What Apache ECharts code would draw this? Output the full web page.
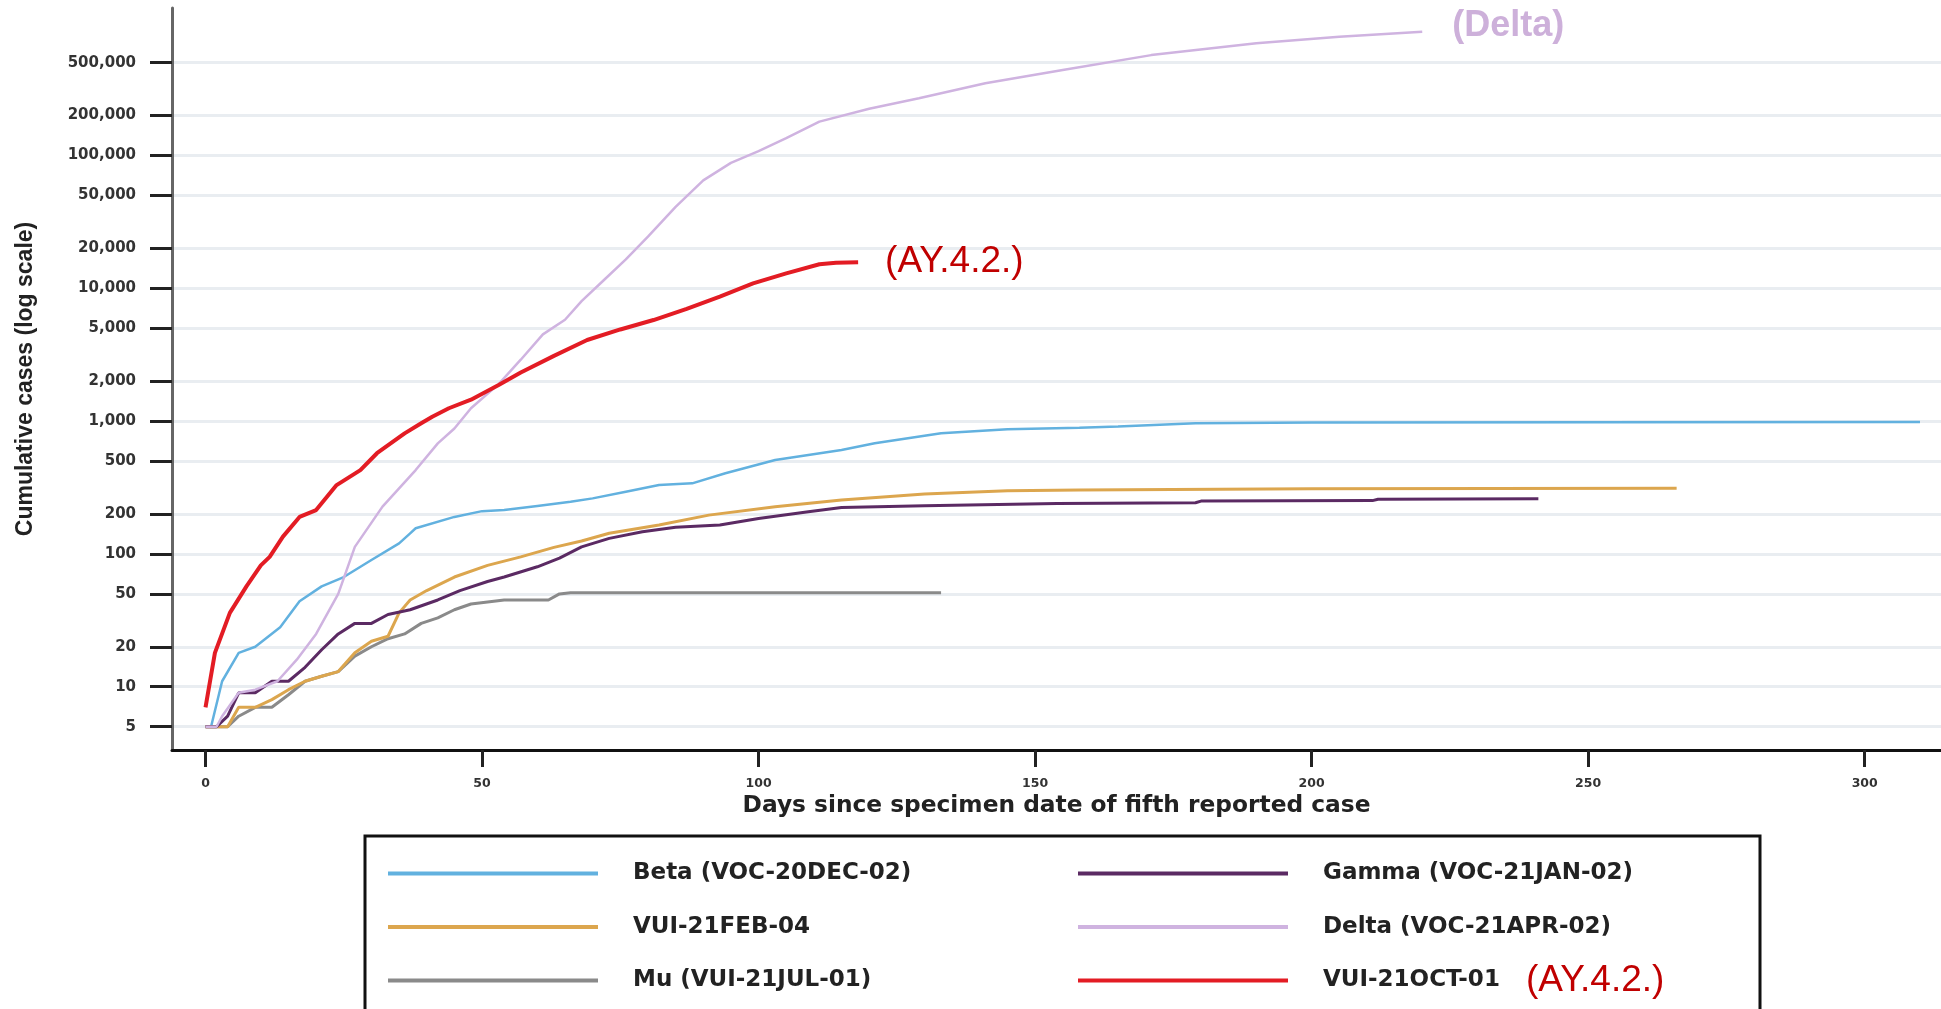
<!DOCTYPE html>
<html><head><meta charset="utf-8">
<script src="https://cdn.jsdelivr.net/npm/echarts@6/dist/echarts.min.js"></script>
<style>html,body{margin:0;padding:0;background:#fff}#c{width:1941px;height:1009px}</style>
</head><body><div id="c"></div>
<script>
// ---- tick labels ----
const xTicks = [0, 50, 100, 150, 200, 250, 300];
const yTicks = [5, 10, 20, 50, 100, 200, 500, 1000, 2000, 5000, 10000, 20000, 50000, 100000, 200000, 500000];

// ---- series names ----
const nameBeta = 'Beta (VOC-20DEC-02)';
const nameGamma = 'Gamma (VOC-21JAN-02)';
const nameFeb = 'VUI-21FEB-04';
const nameDelta = 'Delta (VOC-21APR-02)';
const nameMu = 'Mu (VUI-21JUL-01)';
const nameOct = 'VUI-21OCT-01';

// ---- data (days since fifth case, cumulative cases) ----
const betaDays  = [0,1,3,6,9,13.5,17,21,25,30,35,37,38,45,50,54,60,66,70,76,82,88,94,103,115,121,133,145,158,165,179,200,250,310];
const betaCases = [5,5,11,18,20,28,44,57,67,90,120,143,156,190,210,214,230,247,262,294,330,340,405,509,606,681,809,867,892,910,964,975,980,985];

const gammaDays  = [0,2,4,6,9,12,15,18,21,24,27,30,33,37,42,46,51,54,60,64,68,73,79,85,93,100,109,115,130,154,179,180,211,212,241];
const gammaCases = [5,5,6,9,9,11,11,14,19,25,30,30,35,38,45,53,62,67,80,93,113,131,147,159,165,185,208,224,231,240,243,250,252,258,260];

const febDays  = [0,4,6,9,12,15,18,21,24,27,30,33,35,37,40,45,51,57,63,68,73,82,91,103,115,130,145,158,200,266];
const febCases = [5,5,7,7,8,9.5,11,12,13,18,22,24,36,45,53,67,82,95,112,125,143,165,196,227,255,283,299,303,310,312];

const deltaDays  = [0,2,3,6,9,13,16.5,20,24,27,32,38,42,45,48,53,57,61,65,68,72,76,80,85,90,95,100,105,111,120,129,141,155,171,190,205,220];
const deltaCases = [5,5,6,9,9.5,11,16,25,50,113,227,428,680,880,1250,1900,2900,4500,5800,8000,11500,16500,24500,41000,65000,88000,108000,135000,180000,225000,270000,350000,440000,570000,700000,785000,855000];

const muDays  = [0,4,6,9,12,15,18,21,24,27,30,33,36,39,42,45,48,54,62,64,66,133];
const muCases = [5,5,6,7,7,8.7,11,12,13,17,20,23,25,30,33,38,42,45,45,50,51,51];

const octDays  = [0,1.7,4.4,7.4,10,11.6,14,17,20,23.7,28,31,36,39,41,44,48,53,57,63,69,75,81,87,93,99,105,111,114,118];
const octCases = [7,18,36,57,82,95,135,190,214,330,428,573,809,964,1080,1250,1450,1870,2320,3100,4080,4900,5770,7000,8650,10900,12970,15170,15600,15700];

function pairs(d, c) { return d.map((x, i) => [x, c[i]]); }

function line(name, days, cases, color, width, z, extra) {
  return Object.assign({
    type: 'line', name: name, data: pairs(days, cases),
    symbol: 'none', showSymbol: false, z: z,
    lineStyle: { color: color, width: width },
    itemStyle: { color: color },
    emphasis: { disabled: true }
  }, extra || {});
}

const legendText = {
  fontFamily: 'DejaVu Sans', fontWeight: 'bold', fontSize: 23, color: '#222', lineHeight: 26,
  rich: {
    g: { width: 30, height: 26, lineHeight: 26 },
    t: { fontFamily: 'DejaVu Sans', fontWeight: 'bold', fontSize: 23, color: '#222', height: 26, lineHeight: 26 },
    s: { width: 26, height: 26, lineHeight: 26 },
    a: { fontFamily: 'Liberation Sans', fontWeight: 'normal', fontSize: 37, color: '#c00000', height: 26, lineHeight: 26 }
  }
};
function legendFmt(name) {
  if (name === nameOct) return '{g| }{t|' + name + '}{s| }{a|(AY.4.2.)}';
  return '{g| }{t|' + name + '}{a| }';
}
const legendBase = {
  orient: 'vertical', icon: 'rect', itemWidth: 210, itemHeight: 4, itemGap: 16.5,
  padding: 0, selectedMode: false, textStyle: legendText, formatter: legendFmt
};

const chart = echarts.init(document.getElementById('c'), null, { renderer: 'canvas' });
chart.setOption({
  animation: false,
  backgroundColor: '#fff',
  grid: { left: 172, top: 8, right: 0, bottom: 259, outerBoundsMode: 'none' },
  xAxis: {
    type: 'value', min: -6.06, max: 313.8,
    name: 'Days since specimen date of fifth reported case',
    nameLocation: 'middle', nameGap: 40,
    nameTextStyle: { fontFamily: 'DejaVu Sans', fontWeight: 'bold', fontSize: 23.3, color: '#222' },
    axisLine: { show: true, onZero: false, lineStyle: { color: '#111', width: 3 } },
    axisTick: { show: true, length: 17, customValues: xTicks, lineStyle: { color: '#222', width: 3 } },
    axisLabel: { customValues: xTicks, margin: 27, fontFamily: 'DejaVu Sans', fontWeight: 'bold', fontSize: 12.5, color: '#333' },
    splitLine: { show: false }
  },
  yAxis: {
    type: 'log', logBase: 10, min: 3.34, max: 1290000,
    name: 'Cumulative cases (log scale)', nameLocation: 'middle', nameGap: 135, nameRotate: 90,
    nameTextStyle: { fontFamily: 'Liberation Sans', fontWeight: 'bold', fontSize: 23, color: '#222' },
    axisLine: { show: true, onZero: false, lineStyle: { color: '#666', width: 3 } },
    axisTick: { show: true, length: 22, customValues: yTicks, lineStyle: { color: '#222', width: 3 } },
    axisLabel: {
      customValues: yTicks, margin: 36,
      formatter: function (v) { return Math.round(v).toLocaleString('en-US'); },
      fontFamily: 'DejaVu Sans', fontWeight: 'bold', fontSize: 15, color: '#333'
    },
    splitLine: { show: true, lineStyle: { color: '#e9edf1', width: 3 } },
    minorTick: { show: false }, minorSplitLine: { show: false }
  },
  legend: [
    Object.assign({}, legendBase, { left: 388, top: 855, data: [nameBeta, nameFeb, nameMu] }),
    Object.assign({}, legendBase, { left: 1078, top: 855, data: [nameGamma, nameDelta, nameOct] })
  ],
  graphic: [{
    type: 'rect', silent: true,
    shape: { x: 365, y: 836, width: 1395, height: 220 },
    style: { fill: 'none', stroke: '#111', lineWidth: 3 }
  }],
  series: [
    line(nameBeta, betaDays, betaCases, '#62b1df', 2.5, 3),
    line(nameFeb, febDays, febCases, '#dca64e', 3, 4),
    line(nameMu, muDays, muCases, '#8a8a8a', 3, 3),
    line(nameGamma, gammaDays, gammaCases, '#5b2a63', 3, 5),
    line(nameDelta, deltaDays, deltaCases, '#cfb3e0', 2.5, 6, {
      endLabel: { show: true, formatter: '(Delta)', fontFamily: 'Liberation Sans', fontWeight: 'bold',
                  fontSize: 36, color: '#cdb0da', distance: 30, offset: [0, -6] }
    }),
    line(nameOct, octDays, octCases, '#e31c24', 4, 7, {
      endLabel: { show: true, formatter: '(AY.4.2.)', fontFamily: 'Liberation Sans', fontWeight: 'normal',
                  fontSize: 37, color: '#c00000', distance: 27 }
    })
  ]
});
</script>
</body></html>
